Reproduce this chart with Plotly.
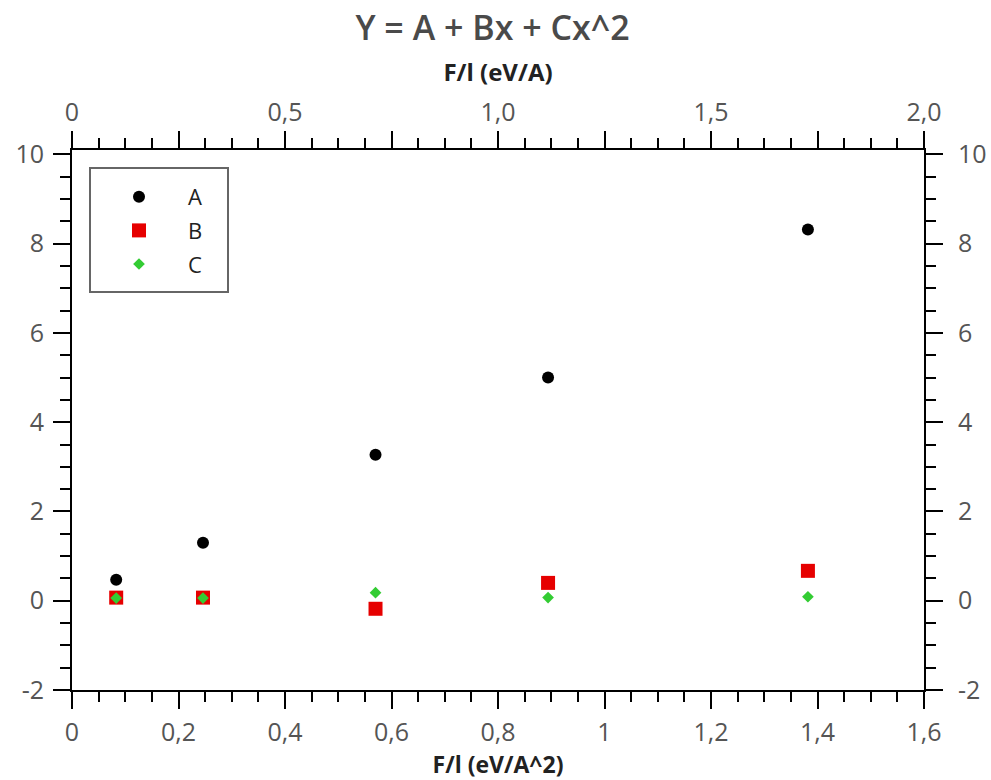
import plotly.graph_objects as go

# Field strength (bottom scale, eV/A^2) and fitted coefficients
field = [0.083, 0.246, 0.570, 0.894, 1.382]
coef_a = [0.47, 1.30, 3.27, 5.00, 8.32]
coef_b = [0.07, 0.07, -0.18, 0.40, 0.67]
coef_c = [0.06, 0.06, 0.18, 0.07, 0.09]

x_bottom_range = [0, 1.6]
x_top_range = [0, 2.0]
y_range = [-2, 10.1]

top_tickvals = [0, 0.25, 0.5, 0.75, 1.0, 1.25, 1.5, 1.75, 2.0]
top_ticktext = ["0", "", "0,5", "", "1,0", "", "1,5", "", "2,0"]
y_tickvals = [-2, 0, 2, 4, 6, 8, 10]
y_ticktext = ["-2", "0", "2", "4", "6", "8", "10"]

FONT = "Open Sans"
LABEL_COLOR = "#555555"

fig = go.Figure()
fig.add_trace(go.Scatter(x=field, y=coef_a, mode="markers", name="A", legendgroup="a",
                         marker=dict(symbol="circle", size=12, color="black")))
fig.add_trace(go.Scatter(x=field, y=coef_b, mode="markers", name="B", legendgroup="b",
                         marker=dict(symbol="square", size=14, color="#e60000")))
fig.add_trace(go.Scatter(x=field, y=coef_c, mode="markers", name="C", legendgroup="c",
                         marker=dict(symbol="diamond", size=9, color="#33cc33")))
# empty traces that carry the top and right axes
fig.add_trace(go.Scatter(x=[None], y=[None], xaxis="x2", yaxis="y",
                         showlegend=False, hoverinfo="skip"))
fig.add_trace(go.Scatter(x=[None], y=[None], xaxis="x", yaxis="y2",
                         showlegend=False, hoverinfo="skip"))

axis_common = dict(
    showline=True, linecolor="black", linewidth=2,
    ticks="outside", tickcolor="black", tickwidth=2, ticklen=17,
    showgrid=False, zeroline=False, automargin=False,
    tickfont=dict(family=FONT, size=25, color=LABEL_COLOR),
)
minor_common = dict(ticks="outside", ticklen=10, tickcolor="black", tickwidth=2, showgrid=False)
top_title_font = dict(family=FONT, size=24, color="#222222", weight="bold")
bottom_title_font = dict(family=FONT, size=23, color="#222222", weight="bold")

fig.update_layout(
    width=991, height=780,
    margin=dict(l=72, r=67, t=150, b=90, autoexpand=False),
    paper_bgcolor="white", plot_bgcolor="white",
    separators=",.",
    title=dict(text="Y = A + Bx + Cx^2", x=0.497, xanchor="center",
               y=1 - 28 / 780, yanchor="middle", yref="container",
               font=dict(family=FONT, size=34, color="#4a4a4a", weight=600)),
    xaxis=dict(range=x_bottom_range, dtick=0.2, tick0=0, ticklabelstandoff=2,
               minor=dict(dtick=0.05, **minor_common),
               title=dict(text="F/l (eV/A^2)", standoff=18, font=bottom_title_font),
               **axis_common),
    xaxis2=dict(range=x_top_range, overlaying="x", side="top", anchor="y",
                tickmode="array", tickvals=top_tickvals, ticktext=top_ticktext,
                minor=dict(tickmode="linear", tick0=0, dtick=0.0625, **minor_common),
                title=dict(text="F/l (eV/A)", standoff=6, font=top_title_font),
                **axis_common),
    yaxis=dict(range=y_range, tickmode="array", tickvals=y_tickvals, ticktext=y_ticktext,
               ticklabelstandoff=4,
               minor=dict(tickmode="linear", tick0=0, dtick=0.5, **minor_common),
               **axis_common),
    yaxis2=dict(range=y_range, tickmode="array", tickvals=y_tickvals, ticktext=y_ticktext,
                overlaying="y", side="right", anchor="x", ticklabelstandoff=10,
                minor=dict(tickmode="linear", tick0=0, dtick=0.5, **minor_common),
                **axis_common),
    legend=dict(x=(90 - 72) / 852, y=(690 - 176) / 540, xanchor="left", yanchor="top",
                borderwidth=0, bgcolor="rgba(0,0,0,0)",
                font=dict(family=FONT, size=22, color="#222222"),
                itemwidth=88, tracegroupgap=2),
    showlegend=True,
    shapes=[dict(type="rect", xref="paper", yref="paper",
                 x0=(90 - 72) / 852, x1=(228 - 72) / 852,
                 y0=(690 - 292) / 540, y1=(690 - 168) / 540,
                 line=dict(color="#666666", width=2), fillcolor="white", layer="below")],
)

fig.write_html("out.html")
